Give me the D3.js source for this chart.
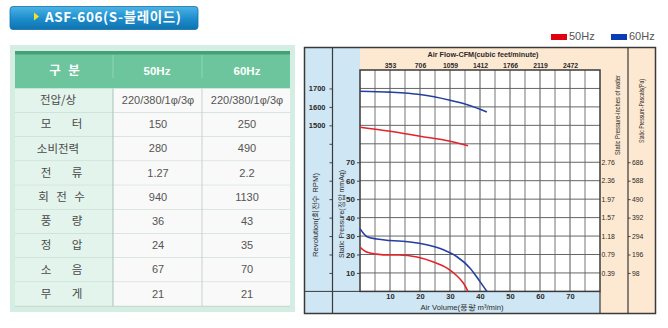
<!DOCTYPE html>
<html><head><meta charset="utf-8">
<script src="https://cdn.jsdelivr.net/npm/d3@7/dist/d3.min.js"></script>
<style>
html,body{margin:0;padding:0;background:#fff;}
svg{display:block;}
</style></head><body>
<svg id="chart" width="668" height="328"></svg>
<script>
// ---- model / spec table ----
const modelName = "ASF-606(S-블레이드)";
const specHeaders = ["구 분", "50Hz", "60Hz"];
const specLabels = ["전압/상", "모 터", "소비전력", "전 류", "회 전 수", "풍 량", "정 압", "소 음", "무 게"];
const spec50 = ["220/380/1φ/3φ", "150", "280", "1.27", "940", "36", "24", "67", "21"];
const spec60 = ["220/380/1φ/3φ", "250", "490", "2.2", "1130", "43", "35", "70", "21"];

// ---- performance curves (air volume m³/min) ----
const series = ["50Hz", "60Hz"];
const volume50   = [0, 2, 5.5, 10, 13, 19, 24.5, 29, 32, 34.5, 36];
const pressure50 = [24, 21.5, 20.2, 19.7, 19.7, 18.6, 15.9, 12.6, 8.9, 4.4, 0];
const volume60   = [0, 2.2, 5.6, 10, 16.7, 22.2, 27.8, 32.2, 36.7, 40, 42.3];
const pressure60 = [34, 29.8, 28.4, 27.6, 26.8, 25.3, 22.6, 18.9, 12.6, 5.3, 0];
const rpmVolume50 = [0, 10, 20, 30, 36];
const rpm50       = [1490, 1468, 1441, 1414, 1389];
const rpmVolume60 = [0, 10, 20, 30, 35.5, 42.3];
const rpm60       = [1685, 1680, 1667, 1636, 1613, 1573];

// ---- axis ticks ----
const volumeTicks = [10, 20, 30, 40, 50, 60, 70];
const cfmLabels = ["353", "706", "1059", "1412", "1766", "2119", "2472"];
const pressureTicks = [10, 20, 30, 40, 50, 60, 70];
const inchLabels = ["0.39", "0.79", "1.18", "1.57", "1.97", "2.36", "2.76"];
const pascalLabels = ["98", "196", "294", "392", "490", "588", "686"];
const rpmTicks = [700, 800, 900, 1000, 1100, 1200, 1300, 1400, 1500, 1600, 1700];
const rpmLabels = [1500, 1600, 1700];

const colors = {"50Hz": "#e3242b", "60Hz": "#233fa3"};
const legendColors = {"50Hz": "#e00010", "60Hz": "#0a3db5"};

const svg = d3.select("#chart");
const defs = svg.append("defs");
const kr = "'Noto Sans CJK KR', 'Noto Sans', sans-serif";
const sans = "'Liberation Sans', Arial, sans-serif";

// ---- title banner ----
const bg = defs.append("linearGradient").attr("id", "banner").attr("x1", 0).attr("y1", 0).attr("x2", 0).attr("y2", 1);
bg.append("stop").attr("offset", "0%").attr("stop-color", "#4cb4e6");
bg.append("stop").attr("offset", "55%").attr("stop-color", "#1c8ccb");
bg.append("stop").attr("offset", "100%").attr("stop-color", "#0f72b0");
svg.append("rect").attr("x", 10).attr("y", 6.5).attr("width", 188).attr("height", 23)
  .attr("rx", 3).attr("fill", "url(#banner)").attr("stroke", "#1670a8").attr("stroke-width", 0.8);
svg.append("path").attr("d", "M34,12.5 L39,16.5 L34,20.5 Z").attr("fill", "#f4e22a");
svg.append("text").attr("x", 45).attr("y", 22).text(modelName)
  .attr("font-family", kr).attr("font-size", 13.5).attr("font-weight", 700).attr("letter-spacing", 0.6).attr("fill", "#fff");

// ---- spec table ----
const T = {x: 10, y: 45, w: 285, h: 267};
const colX = [15, 113, 202, 290];
const headTop = 51, headBottom = 88.5, rowH = 24.2;
const g = svg.append("g");
g.append("rect").attr("x", T.x).attr("y", T.y).attr("width", T.w).attr("height", T.h).attr("fill", "#d5eee3");
g.append("rect").attr("x", colX[0]).attr("y", headTop).attr("width", colX[3] - colX[0]).attr("height", headBottom - headTop).attr("fill", "#6cc59c");
g.append("rect").attr("x", colX[0]).attr("y", headTop).attr("width", colX[3] - colX[0]).attr("height", 3.5).attr("fill", "#42a176");
[colX[1], colX[2]].forEach(x => g.append("line").attr("x1", x).attr("x2", x).attr("y1", 55).attr("y2", 78)
  .attr("stroke", "#8fd6b5").attr("stroke-width", 1));

// text split on spaces, tokens spread evenly around a centre
function spreadText(sel, label, cx, cy, spread2, spread3, attrs) {
  const tokens = label.split(" ");
  const spread = tokens.length === 2 ? spread2 : spread3;
  tokens.forEach((t, k) => {
    const tx = tokens.length === 1 ? cx : cx - spread / 2 + k * spread / (tokens.length - 1);
    const el = sel.append("text").attr("x", tx).attr("y", cy)
      .attr("text-anchor", "middle").attr("dominant-baseline", "middle").text(t);
    Object.entries(attrs).forEach(([k2, v]) => el.attr(k2, v));
  });
}
const headCenters = [64.5, 157, 247];
specHeaders.forEach((h, i) => {
  if (i === 0) spreadText(g, h, headCenters[i], 72, 19, 19, {"font-family": kr, "font-size": 12.5, "font-weight": 700, "fill": "#fff"});
  else g.append("text").attr("x", headCenters[i]).attr("y", 72).attr("text-anchor", "middle").attr("dominant-baseline", "middle")
    .attr("font-family", sans).attr("font-size", 11.5).attr("font-weight", 700).attr("fill", "#fff").text(h);
});

const rows = specLabels.map((label, i) => ({label, v50: spec50[i], v60: spec60[i], y: headBottom + i * rowH}));
const rg = g.selectAll("g.row").data(rows).join("g").attr("class", "row");
rg.append("rect").attr("x", colX[0]).attr("y", d => d.y).attr("width", colX[1] - colX[0]).attr("height", rowH).attr("fill", "#e3f4ec");
rg.append("rect").attr("x", colX[1]).attr("y", d => d.y).attr("width", colX[3] - colX[1]).attr("height", rowH).attr("fill", "#f8f9f8");
rg.append("line").attr("x1", colX[0]).attr("x2", colX[3]).attr("y1", d => d.y + rowH).attr("y2", d => d.y + rowH)
  .attr("stroke", "#c3d5cc").attr("stroke-width", 1);
rg.each(function(d) {
  const single = d.label.indexOf(" ") < 0;
  spreadText(d3.select(this), d.label, single ? 58 : 61.5, d.y + rowH / 2 + 0.5, 31, 36,
    {"font-family": kr, "font-size": 11.5, "fill": "#4a4a4a"});
});
rg.append("text").attr("x", 158).attr("y", d => d.y + rowH / 2 + 0.5).attr("text-anchor", "middle").attr("dominant-baseline", "middle")
  .attr("font-family", sans).attr("font-size", 11).attr("fill", "#555").text(d => d.v50);
rg.append("text").attr("x", 247).attr("y", d => d.y + rowH / 2 + 0.5).attr("text-anchor", "middle").attr("dominant-baseline", "middle")
  .attr("font-family", sans).attr("font-size", 11).attr("fill", "#555").text(d => d.v60);
const tableBottom = headBottom + specLabels.length * rowH;
g.append("line").attr("x1", colX[1]).attr("x2", colX[1]).attr("y1", headBottom).attr("y2", tableBottom).attr("stroke", "#a5c5b6");
g.append("line").attr("x1", colX[2]).attr("x2", colX[2]).attr("y1", headBottom).attr("y2", tableBottom).attr("stroke", "#c9d3ce");

// ---- legend ----
const lg = svg.append("g");
series.forEach((s, i) => {
  const x0 = 551 + i * 60;
  lg.append("rect").attr("x", x0).attr("y", 34).attr("width", 16).attr("height", 6).attr("fill", legendColors[s]);
  lg.append("text").attr("x", x0 + 18).attr("y", 37.5).attr("dominant-baseline", "middle")
    .attr("font-family", sans).attr("font-size", 11).attr("fill", "#555").text(s);
});

// ---- performance chart ----
const F = {left: 304.5, right: 655.5, top: 47.5, bottom: 313.5};
const P = {left: 360, right: 600, top: 70, bottom: 291.4};
const x = d3.scaleLinear().domain([0, 80]).range([P.left, P.right]);
const yP = d3.scaleLinear().domain([0, 120]).range([P.bottom, P.top]);
const yR = d3.scaleLinear().domain([600, 1800]).range([P.bottom, P.top]);
const blue = "#cfe6f4", peach = "#fde9d2";
const c = svg.append("g");
c.append("rect").attr("x", F.left).attr("y", F.top).attr("width", F.right - F.left).attr("height", F.bottom - F.top).attr("fill", peach);
c.append("rect").attr("x", F.left).attr("y", F.top).attr("width", P.left - F.left).attr("height", F.bottom - F.top).attr("fill", blue);
c.append("rect").attr("x", P.left).attr("y", P.bottom).attr("width", P.right - P.left).attr("height", F.bottom - P.bottom).attr("fill", blue);
c.append("rect").attr("x", P.left).attr("y", P.top).attr("width", P.right - P.left).attr("height", P.bottom - P.top).attr("fill", "#fff");

// grid
c.append("g").selectAll("line").data(d3.range(5, 80, 5)).join("line")
  .attr("x1", d => x(d)).attr("x2", d => x(d)).attr("y1", P.top).attr("y2", P.bottom)
  .attr("stroke", d => d % 10 === 0 ? "#555" : "#777").attr("stroke-width", 1);
c.append("g").selectAll("line").data(d3.range(10, 120, 10)).join("line")
  .attr("x1", P.left).attr("x2", P.right).attr("y1", d => yP(d)).attr("y2", d => yP(d))
  .attr("stroke", "#666").attr("stroke-width", 1);

// frame lines
const frame = c.append("g").attr("stroke", "#3a3a3a").attr("fill", "none");
frame.append("rect").attr("x", F.left).attr("y", F.top).attr("width", F.right - F.left).attr("height", F.bottom - F.top).attr("stroke-width", 1.5);
frame.append("rect").attr("x", P.left).attr("y", P.top).attr("width", P.right - P.left).attr("height", P.bottom - P.top).attr("stroke-width", 1.5);
frame.append("line").attr("x1", 332.5).attr("x2", 332.5).attr("y1", F.top).attr("y2", F.bottom).attr("stroke-width", 1.2);
frame.append("line").attr("x1", 628).attr("x2", 628).attr("y1", F.top).attr("y2", F.bottom).attr("stroke-width", 1.2);
frame.append("line").attr("x1", F.left).attr("x2", P.left).attr("y1", P.bottom).attr("y2", P.bottom).attr("stroke-width", 1);
frame.append("line").attr("x1", P.right).attr("x2", P.right).attr("y1", P.bottom).attr("y2", F.bottom).attr("stroke-width", 1.2);

function styleAxis(sel, size, weight) {
  sel.select(".domain").remove();
  sel.selectAll("text").attr("font-family", sans).attr("font-size", size).attr("font-weight", weight).attr("fill", "#2a2a2a");
  sel.selectAll("line").attr("stroke", "#444");
}
// RPM axis
c.append("g").attr("transform", "translate(332.5,0)")
  .call(d3.axisLeft(yR).tickValues(rpmTicks).tickSize(3).tickPadding(4).tickFormat(d => rpmLabels.includes(d) ? d : ""))
  .call(s => styleAxis(s, 7.5, 700));
// static pressure (mmAq) axis
c.append("g").attr("transform", `translate(${P.left},0)`)
  .call(d3.axisLeft(yP).tickValues(pressureTicks).tickSize(3).tickPadding(2))
  .call(s => styleAxis(s, 8, 700));
// air volume axis
c.append("g").attr("transform", `translate(0,${P.bottom})`)
  .call(d3.axisBottom(x).tickValues(volumeTicks).tickSize(0).tickPadding(2.5))
  .call(s => styleAxis(s, 7.5, 700));
// CFM axis
c.append("g").attr("transform", `translate(0,${P.top})`)
  .call(d3.axisTop(x).tickValues(volumeTicks).tickSize(0).tickPadding(2).tickFormat((d, i) => cfmLabels[i]))
  .call(s => styleAxis(s, 6.8, 700));
// inches of water axis
c.append("g").attr("transform", `translate(${P.right},0)`)
  .call(d3.axisRight(yP).tickValues(pressureTicks).tickSize(0).tickPadding(1.5).tickFormat((d, i) => inchLabels[i]))
  .call(s => styleAxis(s, 6.8, 400));
// pascal axis
c.append("g").attr("transform", "translate(628,0)")
  .call(d3.axisRight(yP).tickValues(pressureTicks).tickSize(2.5).tickPadding(1.5).tickFormat((d, i) => pascalLabels[i]))
  .call(s => styleAxis(s, 6.8, 400));

// axis titles
function title(txt, tx, ty, rot, len, size, weight) {
  c.append("text").attr("transform", `translate(${tx},${ty}) rotate(${rot})`)
    .attr("text-anchor", "middle").attr("dominant-baseline", "middle")
    .attr("font-family", sans).attr("font-size", size).attr("font-weight", weight || 400).attr("fill", "#2a2a2a")
    .attr("textLength", len).attr("lengthAdjust", "spacingAndGlyphs").text(txt);
}
title("Revolution(회전수 RPM)", 315.5, 215, -90, 84, 8);
title("Static Pressure(정압 mmAq)", 342, 214, -90, 88, 8);
title("Static Pressure-inches of water", 618, 115, -90, 80, 7);
title("Static Pressure-Pascals(Pa)", 642.5, 111, -90, 64, 7);
title("Air Volume(풍량 m³/min)", 462, 308, 0, 83, 8);
title("Air Flow-CFM(cubic feet/minute)", 483, 55, 0, 111, 7.5, 700);

// curves
const line = d3.line().x(d => x(d[0])).curve(d3.curveMonotoneX);
const curves = [
  {s: "50Hz", y: yP, pts: d3.zip(volume50, pressure50)},
  {s: "60Hz", y: yP, pts: d3.zip(volume60, pressure60)},
  {s: "50Hz", y: yR, pts: d3.zip(rpmVolume50, rpm50)},
  {s: "60Hz", y: yR, pts: d3.zip(rpmVolume60, rpm60)}
];
c.append("g").selectAll("path").data(curves).join("path")
  .attr("d", d => line.y(p => d.y(p[1]))(d.pts))
  .attr("fill", "none").attr("stroke", d => colors[d.s]).attr("stroke-width", 1.6);
</script>
</body></html>
